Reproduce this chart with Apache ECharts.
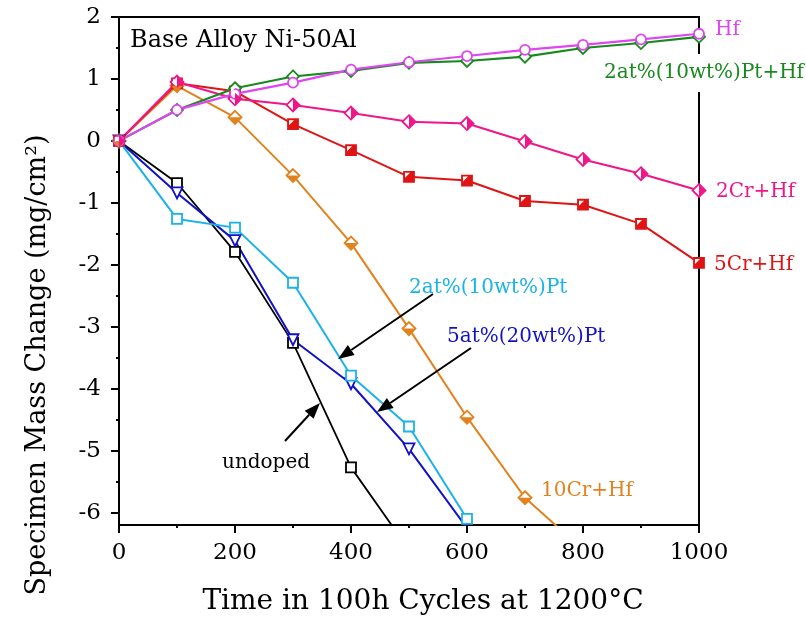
<!DOCTYPE html>
<html>
<head>
<meta charset="utf-8">
<script src="https://cdn.jsdelivr.net/npm/echarts@6/dist/echarts.min.js"></script>
<style>
  html, body { margin: 0; padding: 0; background: #fff; }
  #main { width: 806px; height: 617px; }
</style>
</head>
<body>
<div id="main"></div>
<script>
// cycles (x 100h)
var cycles = [0, 100, 200, 300, 400, 500, 600, 700, 800, 900, 1000];

// mass change, mg/cm2
var hf      = [0, 0.50, 0.76, 0.94, 1.15, 1.27, 1.37, 1.47, 1.55, 1.64, 1.73];
var ptHf    = [0, 0.50, 0.85, 1.04, 1.13, 1.26, 1.29, 1.36, 1.50, 1.58, 1.68];
var cr2Hf   = [0, 0.95, 0.68, 0.58, 0.45, 0.31, 0.28, -0.01, -0.30, -0.53, -0.80];
var cr5Hf   = [0, 0.93, 0.80, 0.27, -0.15, -0.58, -0.64, -0.97, -1.03, -1.34, -1.97];
var cr10Hf  = [0, 0.89, 0.38, -0.56, -1.65, -3.03, -4.46, -5.76, -6.60];
var pt2     = [0, -1.26, -1.40, -2.29, -3.79, -4.61, -6.10];
var pt5     = [0, -0.84, -1.61, -3.21, -3.92, -4.97, -6.25];
var undoped = [0, -0.68, -1.79, -3.26, -5.27, -6.60];

var yTicks = [-6, -5, -4, -3, -2, -1, 0, 1, 2];
var yMinorTicks = [-5.5, -4.5, -3.5, -2.5, -1.5, -0.5, 0.5, 1.5];

function pts(vals) {
    return vals.map(function (v, i) { return [cycles[i], v]; });
}

var serif = '"DejaVu Serif", serif';

// half-filled marker shapes
var halfRight = 'path://M0,0 L1,1 L0,2 Z';
var halfBottom = 'path://M0,0 L2,0 L1,1 Z';
var cornerTri = 'path://M0,0 L1,0 L0,1 Z';

function lineSeries(name, vals, color, symbol, size, width, fill, rot) {
    return {
        name: name,
        type: 'line',
        data: pts(vals),
        symbol: symbol,
        symbolSize: size,
        symbolRotate: rot || 0,
        showSymbol: true,
        clip: true,
        z: 3,
        lineStyle: { color: color, width: width },
        itemStyle: { color: fill || '#fff', borderColor: color, borderWidth: 1.8 },
        emphasis: { disabled: true },
        animation: false
    };
}

function overlay(vals, color, symbol, size, offset) {
    return {
        type: 'line',
        data: pts(vals),
        symbol: symbol,
        symbolSize: size,
        symbolOffset: offset,
        lineStyle: { opacity: 0 },
        itemStyle: { color: color, borderWidth: 0 },
        clip: true,
        z: 4,
        emphasis: { disabled: true },
        animation: false,
        silent: true
    };
}

function arrow(x1, y1, x2, y2) {
    var a = Math.atan2(y2 - y1, x2 - x1);
    var L = 16, W = 6;
    var bx = x2 - L * Math.cos(a), by = y2 - L * Math.sin(a);
    var px = -Math.sin(a) * W, py = Math.cos(a) * W;
    return [
        { type: 'line', shape: { x1: x1, y1: y1, x2: bx, y2: by }, style: { stroke: '#000', lineWidth: 2 }, z: 10 },
        { type: 'polygon', shape: { points: [[x2, y2], [bx + px, by + py], [bx - px, by - py]] }, style: { fill: '#000' }, z: 10 }
    ];
}

function label(text, x, y, color, bg) {
    var st = { text: text, x: x, y: y, fill: color, font: '20px ' + serif, textVerticalAlign: 'middle' };
    if (bg) { st.backgroundColor = '#fff'; st.padding = [9, 0, 9, 0]; }
    return { type: 'text', style: st, z: 20 };
}

var chart = echarts.init(document.getElementById('main'), null, { renderer: 'canvas' });

var option = {
    backgroundColor: '#fff',
    animation: false,
    grid: {
        left: 119, top: 17, right: 107, bottom: 92,
        show: true, borderColor: '#000', borderWidth: 2, backgroundColor: 'transparent'
    },
    xAxis: {
        type: 'value',
        min: 0, max: 1000, interval: 200,
        axisLine: { show: true, onZero: false, lineStyle: { color: '#000', width: 2 } },
        axisTick: { show: true, length: 8, lineStyle: { color: '#000', width: 2 } },
        minorTick: { show: true, splitNumber: 2, length: 3, lineStyle: { color: '#000', width: 2 } },
        splitLine: { show: false },
        axisLabel: { color: '#000', fontFamily: serif, fontSize: 23, margin: 17, formatter: function (v) { return String(v); } }
    },
    yAxis: [{
        type: 'value',
        min: -6.2, max: 2,
        axisLine: { show: true, onZero: false, lineStyle: { color: '#000', width: 2 } },
        axisTick: { show: true, length: 8, customValues: yTicks, lineStyle: { color: '#000', width: 2 } },
        splitLine: { show: false },
        axisLabel: { color: '#000', fontFamily: serif, fontSize: 23, margin: 18, customValues: yTicks }
    }, {
        type: 'value',
        min: -6.2, max: 2,
        position: 'left',
        axisLine: { show: false },
        axisTick: { show: true, length: 3, customValues: yMinorTicks, lineStyle: { color: '#000', width: 2 } },
        axisLabel: { show: false, customValues: yMinorTicks },
        splitLine: { show: false }
    }],
    series: [
        lineSeries('undoped', undoped, '#000000', 'rect', 10, 1.8),
        lineSeries('5at%(20wt%)Pt', pt5, '#1212c4', 'triangle', 11, 2, null, 180),
        lineSeries('2at%(10wt%)Pt', pt2, '#1ab2ea', 'rect', 10, 2),
        lineSeries('10Cr+Hf', cr10Hf, '#e2821e', 'diamond', 13, 2),
        overlay(cr10Hf, '#e2821e', halfBottom, [12, 6.5], [0, 3.25]),
        lineSeries('5Cr+Hf', cr5Hf, '#e01414', 'rect', 10, 2, '#e01414'),
        overlay(cr5Hf, '#fff', cornerTri, [5, 5], [-1.5, -1.5]),
        lineSeries('2Cr+Hf', cr2Hf, '#f0168a', 'diamond', 13, 2),
        overlay(cr2Hf, '#f0168a', halfRight, [6.5, 12], [3.25, 0]),
        lineSeries('2at%(10wt%)Pt+Hf', ptHf, '#178a1e', 'diamond', 12, 2.2),
        lineSeries('Hf', hf, '#de46f2', 'circle', 10, 2.2)
    ],
    graphic: [].concat(
        [
            { type: 'text', style: { text: 'Base Alloy Ni-50Al', x: 130, y: 41, fill: '#000', font: '24px ' + serif, textVerticalAlign: 'middle' }, z: 20 },
            label('Hf', 715, 30, '#de46f2'),
            label('2at%(10wt%)Pt+Hf', 604, 73, '#178a1e', true),
            label('2Cr+Hf', 716, 192, '#f0168a'),
            label('5Cr+Hf', 714, 265, '#e01414'),
            label('2at%(10wt%)Pt', 409, 288, '#1ab2ea'),
            label('5at%(20wt%)Pt', 447, 337, '#1212c4'),
            label('10Cr+Hf', 541, 491, '#e2821e'),
            label('undoped', 222, 463, '#000'),
            {
                type: 'text',
                style: { text: 'Time in 100h Cycles at 1200°C', x: 423, y: 602, fill: '#000', font: '28px ' + serif, textAlign: 'center', textVerticalAlign: 'middle' },
                z: 20
            },
            {
                type: 'text',
                x: 38, y: 365, rotation: Math.PI / 2,
                style: { text: 'Specimen Mass Change (mg/cm²)', x: 0, y: 0, fill: '#000', font: '27px ' + serif, textAlign: 'center', textVerticalAlign: 'middle' },
                z: 20
            }
        ],
        arrow(433, 294, 338, 359),
        arrow(471, 348, 377, 412),
        arrow(285, 441, 320, 403)
    )
};

chart.setOption(option);
</script>
</body>
</html>
